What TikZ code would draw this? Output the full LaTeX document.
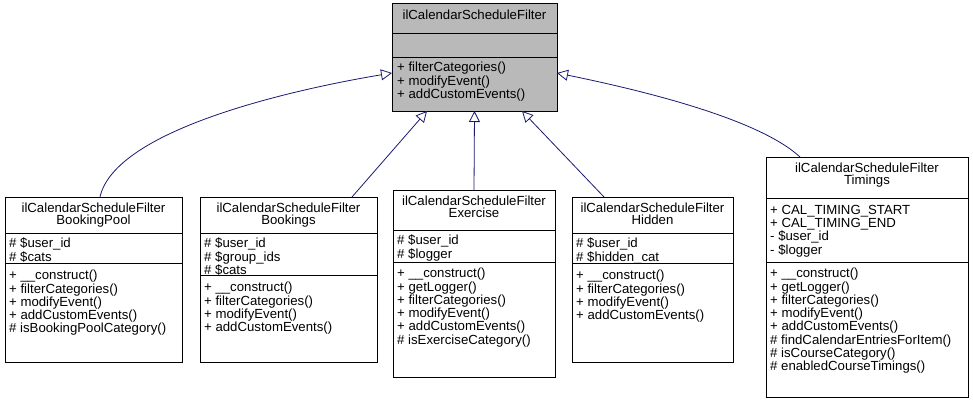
\documentclass[tikz,border=0pt]{standalone}
\usepackage{fontspec}
\setmainfont{Liberation Sans}
\usetikzlibrary{arrows.meta}
\definecolor{edge}{HTML}{191970}
\begin{document}
\begin{tikzpicture}[x=1pt,y=-1pt,
  box/.style={draw=black,line width=0.8pt,inner sep=0,outer sep=0},
  txt/.style={anchor=north west,inner sep=0,align=left,font=\fontsize{13.2}{11.6}\selectfont},
  ttl/.style={anchor=north,inner sep=0,align=center,font=\fontsize{13.2}{11.6}\selectfont},
  ext/.style={draw=edge,line width=0.8pt,-{Triangle[open,length=11pt,width=11pt,fill=white]}}]
\useasboundingbox (0,0) rectangle (973,404);
% top class
\node[box,fill=gray!55,minimum width=165pt,minimum height=108pt] (top) at (474.5,57) {};
\draw (392,33) -- (557,33) (392,57) -- (557,57);
\node[ttl] (t0) at (474.5,10) {ilCalendarScheduleFilter};
\node[txt] (t1) at (397,62) {+ filterCategories()\\+ modifyEvent()\\+ addCustomEvents()};
% box 1
\node[box,minimum width=177pt,minimum height=165pt] (b1) at (93.5,279.5) {};
\draw (5,233) -- (182,233) (5,263) -- (182,263);
\node[ttl] at (93.5,203) {ilCalendarScheduleFilter\\BookingPool};
\node[txt] at (9,238) {\# \$user\_id\\\# \$cats};
\node[txt] at (9,270) {+ \_\_construct()\\+ filterCategories()\\+ modifyEvent()\\+ addCustomEvents()\\\# isBookingPoolCategory()};
% box 2
\node[box,minimum width=177pt,minimum height=165pt] (b2) at (288.5,279.5) {};
\draw (200,233) -- (377,233) (200,275) -- (377,275);
\node[ttl] at (288.5,203) {ilCalendarScheduleFilter\\Bookings};
\node[txt] at (204,238) {\# \$user\_id\\\# \$group\_ids\\\# \$cats};
\node[txt] at (204,282) {+ \_\_construct()\\+ filterCategories()\\+ modifyEvent()\\+ addCustomEvents()};
% box 3
\node[box,minimum width=162pt,minimum height=187pt] (b3) at (474,283.5) {};
\draw (393,230) -- (555,230) (393,262) -- (555,262);
\node[ttl] at (474,196) {ilCalendarScheduleFilter\\Exercise};
\node[txt] at (397,235) {\# \$user\_id\\\# \$logger};
\node[txt] at (397,268) {+ \_\_construct()\\+ getLogger()\\+ filterCategories()\\+ modifyEvent()\\+ addCustomEvents()\\\# isExerciseCategory()};
% box 4
\node[box,minimum width=161pt,minimum height=165pt] (b4) at (652.5,279.5) {};
\draw (572,233) -- (733,233) (572,263) -- (733,263);
\node[ttl] at (652.5,203) {ilCalendarScheduleFilter\\Hidden};
\node[txt] at (576,238) {\# \$user\_id\\\# \$hidden\_cat};
\node[txt] at (576,270) {+ \_\_construct()\\+ filterCategories()\\+ modifyEvent()\\+ addCustomEvents()};
% box 5
\node[box,minimum width=202pt,minimum height=240pt] (b5) at (867,277) {};
\draw (766,198) -- (968,198) (766,262) -- (968,262);
\node[ttl] at (867,163) {ilCalendarScheduleFilter\\Timings};
\node[txt] at (770,205) {+ CAL\_TIMING\_START\\+ CAL\_TIMING\_END\\- \$user\_id\\- \$logger};
\node[txt] at (770,268) {+ \_\_construct()\\+ getLogger()\\+ filterCategories()\\+ modifyEvent()\\+ addCustomEvents()\\\# findCalendarEntriesForItem()\\\# isCourseCategory()\\\# enabledCourseTimings()};
% edges
\coordinate (e1) at (100,197);
\coordinate (e2) at (352,197);
\coordinate (e4) at (604,197);
\coordinate (e5) at (800,157);
\coordinate (a1) at (392,73);
\coordinate (a2) at (427,111);
\coordinate (a4) at (522,111);
\coordinate (a5) at (557,73);
\draw[ext] (e1) .. controls (115,130) and (290,90) .. (a1);
\draw[ext] (e2) -- (a2);
\draw[ext] (b3.north) -- (top.south);
\draw[ext] (e4) -- (a4);
\draw[ext] (e5) .. controls (760,120) and (650,92) .. (a5);
\end{tikzpicture}
\end{document}
